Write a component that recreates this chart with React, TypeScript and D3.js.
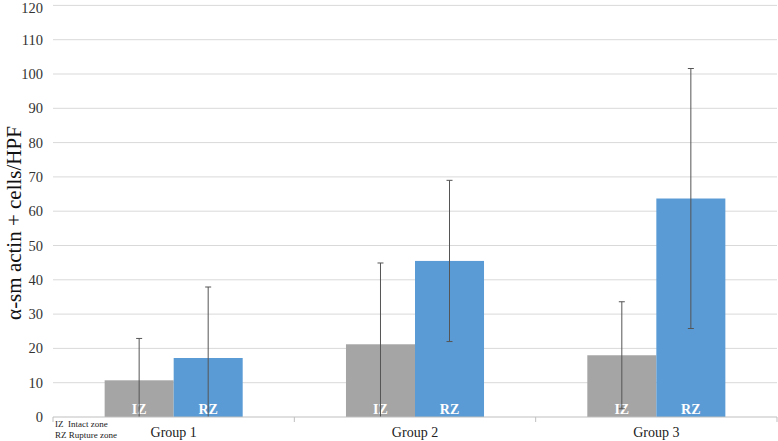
import React, { useEffect, useRef } from 'react';
import * as d3 from 'd3';

const groups = ['Group 1', 'Group 2', 'Group 3'];
const zones = ['IZ', 'RZ'];
const izMeans = [10.7, 21.2, 18];
const rzMeans = [17.2, 45.5, 63.7];
const izErrors = [12.2, 23.7, 15.6];
const rzErrors = [20.7, 23.5, 37.9];
const yTicks = [0, 10, 20, 30, 40, 50, 60, 70, 80, 90, 100, 110, 120];
const notes = ['IZ  Intact zone', 'RZ Rupture zone'];

const App = () => {
  const ref = useRef<SVGSVGElement>(null);

  useEffect(() => {
    const width = 778;
    const height = 441;
    const margin = { top: 5.4, right: 1, bottom: 24, left: 53 };

    const svg = d3.select(ref.current);
    svg.selectAll('*').remove();

    const x = d3.scaleBand()
      .domain(groups)
      .range([margin.left, width - margin.right]);

    const xZone = d3.scaleBand()
      .domain(zones)
      .range([0, x.bandwidth() * 0.572])
      .padding(0);

    const y = d3.scaleLinear()
      .domain([0, 120])
      .range([height - margin.bottom, margin.top]);

    const font = "'Liberation Serif', 'Times New Roman', Times, serif";

    // gridlines
    svg.append('g')
      .selectAll('line')
      .data(yTicks.filter(t => t > 0))
      .enter().append('line')
      .attr('x1', margin.left)
      .attr('x2', width - margin.right)
      .attr('y1', d => y(d))
      .attr('y2', d => y(d))
      .attr('stroke', '#d9d9d9')
      .attr('stroke-width', 1);

    // y tick labels
    svg.append('g')
      .selectAll('text')
      .data(yTicks)
      .enter().append('text')
      .attr('x', 43)
      .attr('y', d => Math.max(y(d) + 5, 13))
      .attr('text-anchor', 'end')
      .style('font-family', font)
      .style('font-size', '14.5px')
      .attr('fill', '#333')
      .text(d => d);

    const rows = groups.map((g, i) => [
      { group: g, zone: 'IZ', mean: izMeans[i], err: izErrors[i] },
      { group: g, zone: 'RZ', mean: rzMeans[i], err: rzErrors[i] },
    ]).flat();

    const color = d3.scaleOrdinal<string>()
      .domain(zones)
      .range(['#a5a5a5', '#5b9bd5']);

    const offset = (x.bandwidth() - xZone.range()[1]) / 2;
    const bx = (d: any) => (x(d.group) as number) + offset + (xZone(d.zone) as number);
    const cx = (d: any) => bx(d) + xZone.bandwidth() / 2;

    const bars = svg.append('g')
      .selectAll('g')
      .data(rows)
      .enter().append('g');

    bars.append('rect')
      .attr('x', d => bx(d))
      .attr('y', d => y(d.mean))
      .attr('width', xZone.bandwidth())
      .attr('height', d => y(0) - y(d.mean))
      .attr('fill', d => color(d.zone));

    bars.append('text')
      .attr('x', d => cx(d))
      .attr('y', y(0) - 3)
      .attr('text-anchor', 'middle')
      .style('font-family', font)
      .style('font-weight', 'bold')
      .style('font-size', '14px')
      .attr('fill', '#fff')
      .text(d => d.zone);

    // error bars
    bars.append('line')
      .attr('x1', cx)
      .attr('x2', cx)
      .attr('y1', d => y(Math.max(0, d.mean - d.err)))
      .attr('y2', d => y(d.mean + d.err))
      .attr('stroke', '#555')
      .attr('stroke-width', 1);

    bars.append('line')
      .attr('x1', d => cx(d) - 3)
      .attr('x2', d => cx(d) + 3)
      .attr('y1', d => y(d.mean + d.err))
      .attr('y2', d => y(d.mean + d.err))
      .attr('stroke', '#555')
      .attr('stroke-width', 1);

    bars.filter(d => d.mean - d.err > 0).append('line')
      .attr('x1', d => cx(d) - 3)
      .attr('x2', d => cx(d) + 3)
      .attr('y1', d => y(d.mean - d.err))
      .attr('y2', d => y(d.mean - d.err))
      .attr('stroke', '#555')
      .attr('stroke-width', 1);

    // x axis
    svg.append('line')
      .attr('x1', margin.left)
      .attr('x2', width - margin.right)
      .attr('y1', y(0))
      .attr('y2', y(0))
      .attr('stroke', '#bfbfbf');

    const bounds = [...groups.map(g => x(g) as number), width - margin.right];
    svg.append('g')
      .selectAll('line')
      .data(bounds)
      .enter().append('line')
      .attr('x1', d => d)
      .attr('x2', d => d)
      .attr('y1', y(0))
      .attr('y2', y(0) + 5)
      .attr('stroke', '#bfbfbf');

    svg.append('g')
      .selectAll('text')
      .data(groups)
      .enter().append('text')
      .attr('x', d => (x(d) as number) + x.bandwidth() / 2)
      .attr('y', 437)
      .attr('text-anchor', 'middle')
      .style('font-family', font)
      .style('font-size', '14px')
      .attr('fill', '#222')
      .text(d => d);

    // y title
    svg.append('text')
      .attr('transform', `translate(21, 223) rotate(-90)`)
      .attr('text-anchor', 'middle')
      .style('font-family', font)
      .style('font-size', '21px')
      .attr('fill', '#111')
      .text('α-sm actin + cells/HPF');

    // legend note
    svg.append('g')
      .selectAll('text')
      .data(notes)
      .enter().append('text')
      .attr('x', 55)
      .attr('y', (d, i) => 427 + i * 11)
      .style('font-family', font)
      .style('font-size', '9px')
      .style('white-space', 'pre')
      .attr('fill', '#222')
      .text(d => d);
  }, []);

  return (
    <svg ref={ref} width={778} height={441} style={{ position: 'absolute', left: 0, top: 0, background: '#fff' }} />
  );
};

export default App;
